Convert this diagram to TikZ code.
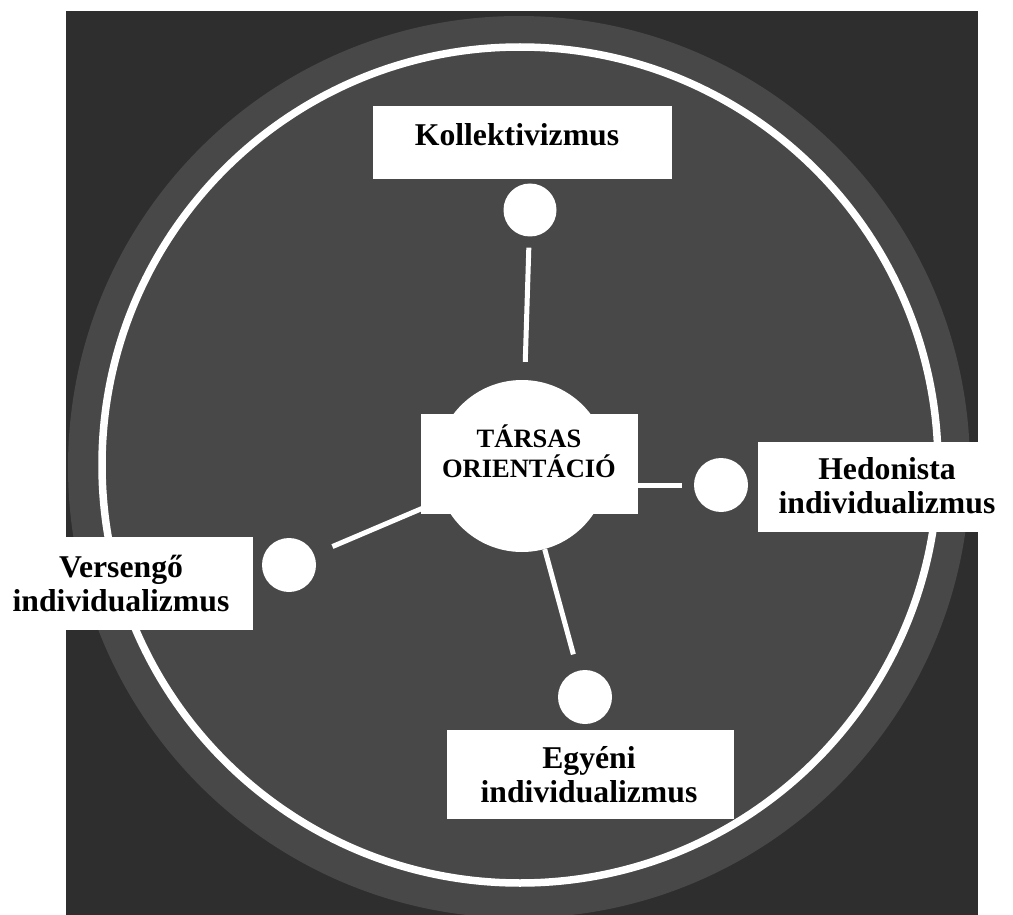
\documentclass[tikz,border=0pt]{standalone}
\usepackage{fontspec}
\setmainfont{Liberation Serif}
\definecolor{bgdark}{RGB}{46,46,46}
\definecolor{discgray}{RGB}{72,72,72}
\begin{document}
\begin{tikzpicture}[x=1pt,y=-1pt,
  dot/.style={circle,fill=white,inner sep=0pt,minimum size=54pt},
  whitebox/.style={rectangle,fill=white,inner sep=0pt},
  lbl/.style={font=\bfseries\fontsize{31.7}{34}\selectfont,align=center,text=black,inner sep=0pt},
  ctrlbl/.style={font=\bfseries\fontsize{26.5}{30}\selectfont,align=center,text=black,inner sep=0pt},
  link/.style={draw=white,line width=5pt}]
\useasboundingbox (0,0) rectangle (1013,915);
% background
\fill[bgdark] (66,11) rectangle (978,915);
\begin{scope}
  \clip (66,11) rectangle (978,915);
  \fill[discgray] (519,467) circle[radius=451];
\end{scope}
\draw[white,line width=7.5pt] (520,465) circle[radius=418];
% circles
\node[dot,minimum size=172pt] (c) at (522,466) {};
\node[dot,minimum size=53pt] (kol) at (530,210) {};
\node[dot] (hed) at (721,485) {};
\node[dot] (ver) at (289,565) {};
\node[dot] (egy) at (585,697) {};
% connectors
\draw[link,shorten <=11pt,shorten >=18pt] (kol) -- (c);
\draw[link,shorten >=12pt] (c.center |- hed) -- (hed);
\draw[link,shorten <=20pt] (ver) -- (c);
\draw[link,shorten >=17pt] (c) -- (egy);
% boxes
\node[whitebox,minimum width=299pt,minimum height=73pt] (kolbox) at (522.5,142.5) {};
\node[whitebox,minimum width=217pt,minimum height=100pt] (cbox) at (529.5,464) {};
\node[whitebox,minimum width=255pt,minimum height=90pt] (hedbox) at (885.5,487) {};
\node[whitebox,minimum width=253pt,minimum height=93pt] (verbox) at (126.5,583.5) {};
\node[whitebox,minimum width=287pt,minimum height=89pt] (egybox) at (590.5,774.5) {};
% labels
\node[lbl] (kolt) at (517,135) {Kollektivizmus};
\node[ctrlbl] (ct) at (529,451) {TÁRSAS\\ORIENTÁCIÓ};
\node[lbl] (hedt) at (887,486) {Hedonista\\individualizmus};
\node[lbl] (vert) at (121,583.5) {Versengő\\individualizmus};
\node[lbl] (egyt) at (589,775) {Egyéni\\individualizmus};
\end{tikzpicture}
\end{document}
